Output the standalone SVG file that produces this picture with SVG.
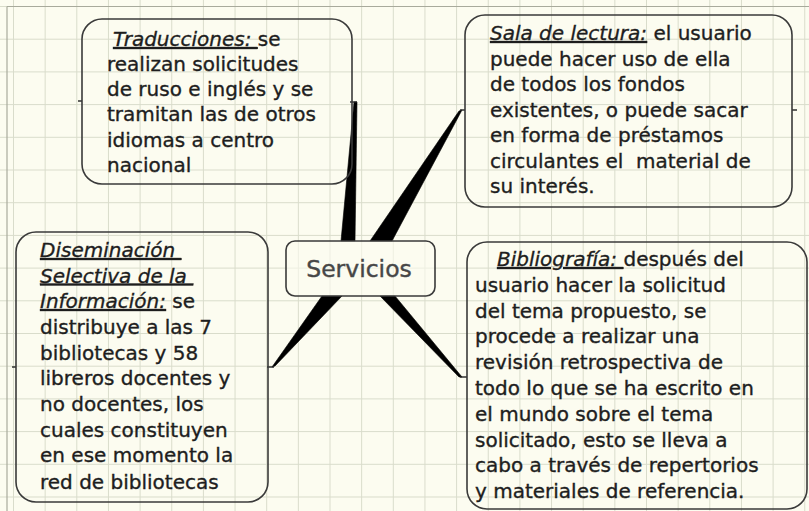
<svg xmlns="http://www.w3.org/2000/svg" width="809" height="511" viewBox="0 0 809 511">
  <defs>
    <pattern id="grid" x="13" y="6" width="31.65" height="32.7" patternUnits="userSpaceOnUse">
      <path d="M0.5 0 V32.7 M0 0.5 H31.65" fill="none" stroke="#d9dccb" stroke-width="1"/>
    </pattern>
    <style>
      .box { fill: none; stroke: #3a3a3a; stroke-width: 1.6; }
      .txt { font-family: "DejaVu Sans", "Verdana", sans-serif; font-size: 20px; fill: #1e1e1e; stroke: #1e1e1e; stroke-width: 0.35; }
      .lbl { font-style: italic; text-decoration: underline; }
      .center { font-family: "DejaVu Sans", "Verdana", sans-serif; font-size: 23.5px; fill: #474747; stroke: #474747; stroke-width: 0.4; text-anchor: middle; }
      .wedge { fill: #000; stroke: #000; stroke-width: 0.6; stroke-linejoin: round; }
      .stub { stroke: #222; stroke-width: 1.4; fill: none; }
    </style>
  </defs>

  <rect x="0" y="0" width="809" height="511" fill="#fcfcf0"/>
  <rect x="0" y="0" width="809" height="511" fill="url(#grid)"/>
  <line x1="7" y1="6.5" x2="809" y2="6.5" stroke="#a8aa9c" stroke-width="1.2"/>
  <line x1="7" y1="6.5" x2="7" y2="511" stroke="#a8aa9c" stroke-width="1.2"/>

  <g id="connectors">
    <polygon class="wedge" points="354,102 357,102 355,241 341,241"/>
    <line class="stub" x1="350" y1="102" x2="357" y2="102"/>
    <polygon class="wedge" points="459,111 462,110 392,241 370,241"/>
    <line class="stub" x1="460" y1="110" x2="465" y2="110"/>
    <polygon class="wedge" points="272,367 275,366 342,296 322,296"/>
    <line class="stub" x1="267" y1="367" x2="274" y2="367"/>
    <polygon class="wedge" points="380,296 395,296 462,377 459,377"/>
    <line class="stub" x1="460" y1="377" x2="467" y2="377"/>
    <line class="stub" x1="78" y1="101" x2="82" y2="101"/>
    <line class="stub" x1="792" y1="110" x2="797" y2="110"/>
    <line class="stub" x1="12" y1="367" x2="16" y2="367"/>
  </g>

  <g id="servicios">
    <rect class="box" x="286" y="241" width="149" height="55" rx="9" ry="9" style="fill:#fcfcf0;fill-opacity:0.6"/>
    <text class="center" x="359" y="277">Servicios</text>
  </g>

  <g id="traducciones">
    <rect class="box" x="82" y="19" width="270" height="165" rx="20" ry="20"/>
    <text class="txt">
      <tspan x="113" y="46"><tspan class="lbl">Traducciones: </tspan>se</tspan>
      <tspan x="107" y="71">realizan solicitudes</tspan>
      <tspan x="107" y="96">de ruso e inglés y se</tspan>
      <tspan x="107" y="121">tramitan las de otros</tspan>
      <tspan x="107" y="147">idiomas a centro</tspan>
      <tspan x="107" y="172">nacional</tspan>
    </text>
  </g>

  <g id="sala">
    <rect class="box" x="465" y="15" width="327" height="192" rx="20" ry="20"/>
    <text class="txt">
      <tspan x="490" y="40"><tspan class="lbl">Sala de lectura:</tspan> el usuario</tspan>
      <tspan x="490" y="65.5">puede hacer uso de ella</tspan>
      <tspan x="490" y="91">de todos los fondos</tspan>
      <tspan x="490" y="116.5">existentes, o puede sacar</tspan>
      <tspan x="490" y="142">en forma de préstamos</tspan>
      <tspan x="490" y="167.5">circulantes el&#160; material de</tspan>
      <tspan x="490" y="193">su interés.</tspan>
    </text>
  </g>

  <g id="diseminacion">
    <rect class="box" x="16" y="232" width="252" height="270" rx="20" ry="20"/>
    <text class="txt">
      <tspan x="40" y="257"><tspan class="lbl">Diseminación </tspan></tspan>
      <tspan x="40" y="282.5"><tspan class="lbl">Selectiva de la </tspan></tspan>
      <tspan x="40" y="308"><tspan class="lbl">Información:</tspan> se</tspan>
      <tspan x="40" y="334">distribuye a las 7</tspan>
      <tspan x="40" y="360">bibliotecas y 58</tspan>
      <tspan x="40" y="385">libreros docentes y</tspan>
      <tspan x="40" y="410.5">no docentes, los</tspan>
      <tspan x="40" y="437">cuales constituyen</tspan>
      <tspan x="40" y="462">en ese momento la</tspan>
      <tspan x="40" y="488.5">red de bibliotecas</tspan>
    </text>
  </g>

  <g id="bibliografia">
    <rect class="box" x="467" y="242" width="340" height="267" rx="20" ry="20"/>
    <text class="txt">
      <tspan x="497" y="266"><tspan class="lbl">Bibliografía: </tspan>después del</tspan>
      <tspan x="475" y="291.8">usuario hacer la solicitud</tspan>
      <tspan x="475" y="317.6">del tema propuesto, se</tspan>
      <tspan x="475" y="343.4">procede a realizar una</tspan>
      <tspan x="475" y="369.2">revisión retrospectiva de</tspan>
      <tspan x="475" y="395">todo lo que se ha escrito en</tspan>
      <tspan x="475" y="420.8">el mundo sobre el tema</tspan>
      <tspan x="475" y="446.6">solicitado, esto se lleva a</tspan>
      <tspan x="475" y="472.4">cabo a través de repertorios</tspan>
      <tspan x="475" y="498.2">y materiales de referencia.</tspan>
    </text>
  </g>
</svg>
